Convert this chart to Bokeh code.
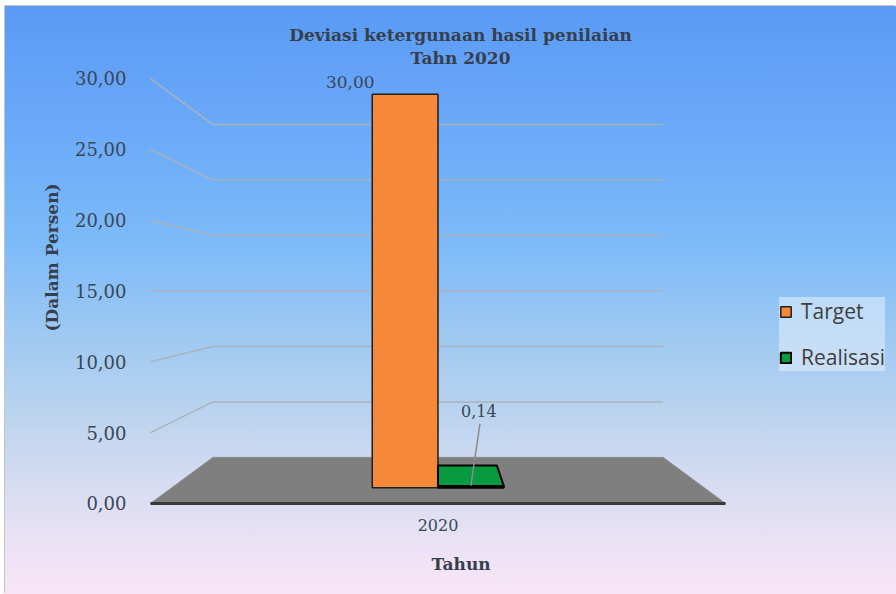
from bokeh.plotting import figure
from bokeh.models import Range1d, FixedTicker, Legend, LegendItem, Title
from bokeh.core.properties import value
from bokeh.embed import file_html
from bokeh.resources import INLINE

# ---- data ----
categories = ["2020"]
series_names = ["Target", "Realisasi"]
target = [30.00]
realisasi = [0.14]
y_ticks = [0, 5, 10, 15, 20, 25, 30]
title_lines = ["Deviasi ketergunaan hasil penilaian", "Tahn 2020"]
y_title = "(Dalam Persen)"
x_title = "Tahun"


def fmt(v):
    return f"{v:.2f}".replace(".", ",")


# ---- pseudo-3D projection (front plane = axis scale) ----
V0 = 15.0                        # eye height in value units (vanishing point)
S_FRONT, S_BACK = 1.0, 0.783     # scale of front / back wall planes
S_BAR_F, S_BAR_B = 0.926, 0.829  # front / back planes of the bars
FLOOR_HALF = 0.5
BAR_W = 0.1235


def proj(x, v, s):
    return x * s, V0 + (v - V0) * s


def quad(pts):
    xs, ys = zip(*[proj(*p) for p in pts])
    return list(xs), list(ys)


SERIF = "DejaVu Serif"
TEXT_COLOR = "#3a4656"
TITLE_COLOR = "#363f4c"

p = figure(
    width=891, height=588,
    x_range=Range1d(-0.51739, 0.79739),
    y_range=Range1d(-0.353, 35.082),
    output_backend="svg", toolbar_location=None,
    min_border_left=135, min_border_right=0,
    min_border_top=0, min_border_bottom=86,
    background_fill_alpha=0, border_fill_alpha=0,
    outline_line_color=None,
    styles={
        "margin-left": "5px",
        "margin-top": "6px",
        "background": "linear-gradient(to bottom, #5a9af5 0%, #6aa9f8 20%, "
                      "#7cbaf9 40%, #9cc8f2 55%, #bcd4ee 70%, #d8dcf2 82%, "
                      "#ece2f5 92%, #f8e6f6 100%)",
        "box-shadow": "-1px -1px 0 #c4c4c4",
    },
)
p.grid.visible = False

# ---- axes ----
yax = p.yaxis[0]
yax.ticker = FixedTicker(ticks=y_ticks)
yax.major_label_overrides = {t: fmt(t) for t in y_ticks}
yax.axis_line_color = None
yax.major_tick_line_color = None
yax.minor_tick_line_color = None
yax.major_tick_out = 0
yax.major_tick_in = 0
yax.major_label_standoff = 14
yax.major_label_text_font = SERIF
yax.major_label_text_font_size = "18px"
yax.major_label_text_color = TEXT_COLOR
yax.axis_label = y_title
yax.axis_label_text_font = SERIF
yax.axis_label_text_font_style = "bold"
yax.axis_label_text_font_size = "17px"
yax.axis_label_text_color = TITLE_COLOR
yax.axis_label_standoff = 10

xax = p.xaxis[0]
xax.ticker = FixedTicker(ticks=[0])
xax.major_label_overrides = {0: categories[0]}
xax.axis_line_color = None
xax.major_tick_line_color = None
xax.minor_tick_line_color = None
xax.major_tick_out = 0
xax.major_tick_in = 0
xax.major_label_standoff = 10
xax.major_label_text_font = SERIF
xax.major_label_text_font_size = "16px"
xax.major_label_text_color = TEXT_COLOR

# x-axis title sits under the floor's centre rather than the frame's centre
p.add_layout(Title(text=x_title, align="left", offset=291, standoff=36,
                   text_font=SERIF, text_font_style="bold",
                   text_font_size="17px", text_color=TITLE_COLOR), "below")

# ---- walls: back gridlines and left side lines ----
wall_xs, wall_ys = [], []
for t in y_ticks[1:]:
    bx, by = quad([(-FLOOR_HALF, t, S_BACK), (FLOOR_HALF, t, S_BACK)])
    wall_xs.append(bx)
    wall_ys.append(by)
    sx, sy = quad([(-FLOOR_HALF, t, S_FRONT), (-FLOOR_HALF, t, S_BACK)])
    wall_xs.append(sx)
    wall_ys.append(sy)
p.multi_line(wall_xs, wall_ys, line_color="#aab2bc", line_width=1.5)

# ---- floor ----
fx, fy = quad([(-FLOOR_HALF, 0, S_FRONT), (FLOOR_HALF, 0, S_FRONT),
               (FLOOR_HALF, 0, S_BACK), (-FLOOR_HALF, 0, S_BACK)])
p.patch(fx, fy, fill_color="#7f7f7f", line_color="#8a8a8a", line_width=1)
ex, ey = quad([(-FLOOR_HALF, 0, S_FRONT), (FLOOR_HALF, 0, S_FRONT)])
p.line(ex, ey, line_color="#3a3a3a", line_width=3)

# ---- bars ----
bar_styles = [
    dict(fill_color="#f6883a", line_color="#1e1e1e", line_width=1.5),
    dict(fill_color="#079a3e", line_color="#000000", line_width=2),
]
series_values = [target, realisasi]
anchors = []
legend_items = []
for i, (name, vals) in enumerate(zip(series_names, series_values)):
    xs, ys = [], []
    for c, v in enumerate(vals):
        left = c + (i - 1) * BAR_W
        right = left + BAR_W
        if v < V0:
            tx, ty = quad([(left, v, S_BAR_B), (right, v, S_BAR_B),
                           (right, v, S_BAR_F), (left, v, S_BAR_F)])
            xs.append(tx)
            ys.append(ty)
        fxs, fys = quad([(left, 0, S_BAR_F), (right, 0, S_BAR_F),
                         (right, v, S_BAR_F), (left, v, S_BAR_F)])
        xs.append(fxs)
        ys.append(fys)
        anchors.append((left, right, v))
    r = p.patches(xs, ys, **bar_styles[i])
    legend_items.append(LegendItem(label=name, renderers=[r]))

# ---- data labels ----
# Target: label sits above-left of the bar top
tl, tr, tv = anchors[0]
ax, ay = proj(tl, tv, S_BAR_F)
p.text([ax], [ay], text=[fmt(tv)], x_offset=-22, y_offset=-12,
       text_align="center", text_baseline="middle",
       text_font=value(SERIF), text_font_size="17px", text_color=TEXT_COLOR)

# Realisasi: label lifted above with a leader line
rl, rr, rv = anchors[1]
cx, cy = proj((rl + rr) / 2, rv, S_BAR_F)
lead_dx, lead_dy = 0.0157, 4.376
p.segment([cx], [cy], [cx + lead_dx], [cy + lead_dy],
          line_color="#8c8c8c", line_width=1.5)
p.text([cx + lead_dx], [cy + lead_dy], text=[fmt(rv)], x_offset=-1, y_offset=-13,
       text_align="center", text_baseline="middle",
       text_font=value(SERIF), text_font_size="16px", text_color=TEXT_COLOR)

# ---- chart title ----
p.text([0.0391, 0.0391], [33.035, 31.48], text=title_lines,
       text_align="center", text_baseline="middle",
       text_font=value(SERIF), text_font_style="bold",
       text_font_size="17px", text_color=TITLE_COLOR)

# ---- legend at the right edge ----
lg = Legend(
    items=legend_items,
    location=(639, 137),
    background_fill_color="#e4eef9",
    background_fill_alpha=0.55,
    border_line_color=None,
    glyph_width=13,
    glyph_height=13,
    label_standoff=9,
    label_text_font="Open Sans",
    label_text_font_size="21px",
    label_text_color="#404040",
    label_height=24,
    spacing=18,
    padding=10,
    margin=0,
)
p.add_layout(lg)

open("out.html", "w").write(file_html(p, INLINE))
